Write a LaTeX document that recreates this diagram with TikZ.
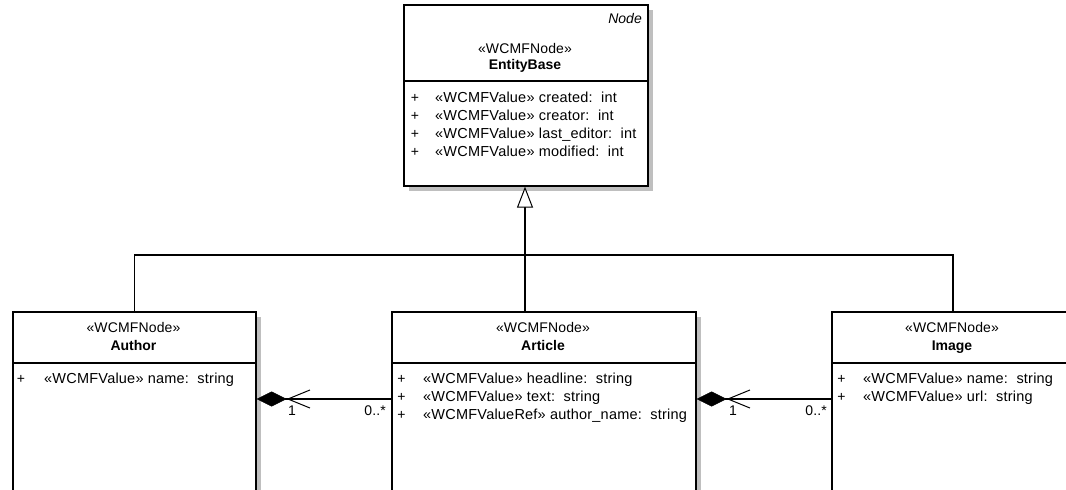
\documentclass[tikz,border=0pt]{standalone}
\usepackage{fontspec}
\setmainfont{Liberation Sans}
\newfontfamily\attrfont[LetterSpace=1.5]{Liberation Sans}
\newfontfamily\stereofont[LetterSpace=1.0]{Liberation Sans}
\usetikzlibrary{arrows.meta,shadows}

\begin{document}
\begin{tikzpicture}[x=1pt,y=-1pt,
  classbox/.style={draw=black, line width=1.6pt, fill=white, anchor=north west,
    inner sep=0pt,
    drop shadow={shadow xshift=5pt, shadow yshift=-5pt, fill=black!25, opacity=1}},
  sepline/.style={line width=1.8pt},
  txt/.style={font=\stereofont\fontsize{14}{16}\selectfont, inner sep=0pt},
  stereo/.style={txt, anchor=base},
  cname/.style={txt, anchor=base, font=\fontsize{14}{16}\selectfont\bfseries},
  vis/.style={txt, anchor=base},
  attr/.style={txt, anchor=base west, font=\attrfont\fontsize{14.5}{16}\selectfont},
  mult/.style={txt, anchor=base},
  conn/.style={line width=1.5pt},
  gen/.style={conn, -{Triangle[open, fill=white, length=21pt, width=16pt, line width=1pt]}},
  comp/.style={conn, {Diamond[length=30pt, width=15pt, line width=0.5pt] Straight Barb[length=22pt, width=18pt, line width=1pt]}-}
]
\useasboundingbox (0,0) rectangle (1066,490);
\clip (0,0) rectangle (1066,490);

% ---------- classes ----------
\node[classbox, minimum width=244pt, minimum height=181pt] (entity) at (403,4) {};
\node[classbox, minimum width=243pt, minimum height=220pt] (author) at (12,311) {};
\node[classbox, minimum width=304pt, minimum height=220pt] (article) at (391,311) {};
\node[classbox, minimum width=242pt, minimum height=220pt] (image) at (831,311) {};

% compartment separators
\draw[sepline] (entity.west |- 0,81) -- (entity.east |- 0,81);
\draw[sepline] (author.west |- 0,363) -- (author.east |- 0,363);
\draw[sepline] (article.west |- 0,363) -- (article.east |- 0,363);
\draw[sepline] (image.west |- 0,363) -- (image.east |- 0,363);

% ---------- EntityBase ----------
\node[txt, anchor=base east, font=\fontsize{14}{16}\selectfont\itshape] (entity-kind) at (642,23) {Node};
\node[stereo] (entity-st) at (525,53) {«WCMFNode»};
\node[cname] (entity-nm) at (525,69) {EntityBase};
\node[vis] (entity-v1) at (415,102) {+};
\node[attr] (entity-a1) at (435,102) {«WCMFValue» created:\ \ int};
\node[vis] (entity-v2) at (415,120) {+};
\node[attr] (entity-a2) at (435,120) {«WCMFValue» creator:\ \ int};
\node[vis] (entity-v3) at (415,138) {+};
\node[attr] (entity-a3) at (435,138) {«WCMFValue» last\_editor:\ \ int};
\node[vis] (entity-v4) at (415,156) {+};
\node[attr] (entity-a4) at (435,156) {«WCMFValue» modified:\ \ int};

% ---------- Author ----------
\node[stereo] (author-st) at (133.5,332) {«WCMFNode»};
\node[cname] (author-nm) at (133.5,350.5) {Author};
\node[vis] (author-v1) at (21,383) {+};
\node[attr] (author-a1) at (44,383) {«WCMFValue» name:\ \ string};

% ---------- Article ----------
\node[stereo] (article-st) at (543,332) {«WCMFNode»};
\node[cname] (article-nm) at (543,350.5) {Article};
\node[vis] (article-v1) at (401.5,383) {+};
\node[attr] (article-a1) at (423,383) {«WCMFValue» headline:\ \ string};
\node[vis] (article-v2) at (401.5,401) {+};
\node[attr] (article-a2) at (423,401) {«WCMFValue» text:\ \ string};
\node[vis] (article-v3) at (401.5,419) {+};
\node[attr] (article-a3) at (423,419) {«WCMFValueRef» author\_name:\ \ string};

% ---------- Image ----------
\node[stereo] (image-st) at (952,332) {«WCMFNode»};
\node[cname] (image-nm) at (952,350.5) {Image};
\node[vis] (image-v1) at (841.5,383) {+};
\node[attr] (image-a1) at (863,383) {«WCMFValue» name:\ \ string};
\node[vis] (image-v2) at (841.5,401) {+};
\node[attr] (image-a2) at (863,401) {«WCMFValue» url:\ \ string};

% ---------- generalization ----------
\coordinate (hub) at (525,255);
\draw[conn] (author.north) |- (hub) -| (image.north);
\draw[gen] (hub |- article.north) -- (hub |- entity.south);

% ---------- compositions ----------
\draw[comp] (author.east |- 0,399) -- (article.west |- 0,399);
\node[mult] (author-m1) at (292,415.5) {1};
\node[txt, anchor=base east] (article-m0) at (386,415.5) {0..*};

\draw[comp] (article.east |- 0,399) -- (image.west |- 0,399);
\node[mult] (article-m1) at (733,415.5) {1};
\node[txt, anchor=base east] (image-m0) at (827,415.5) {0..*};
\end{tikzpicture}
\end{document}
